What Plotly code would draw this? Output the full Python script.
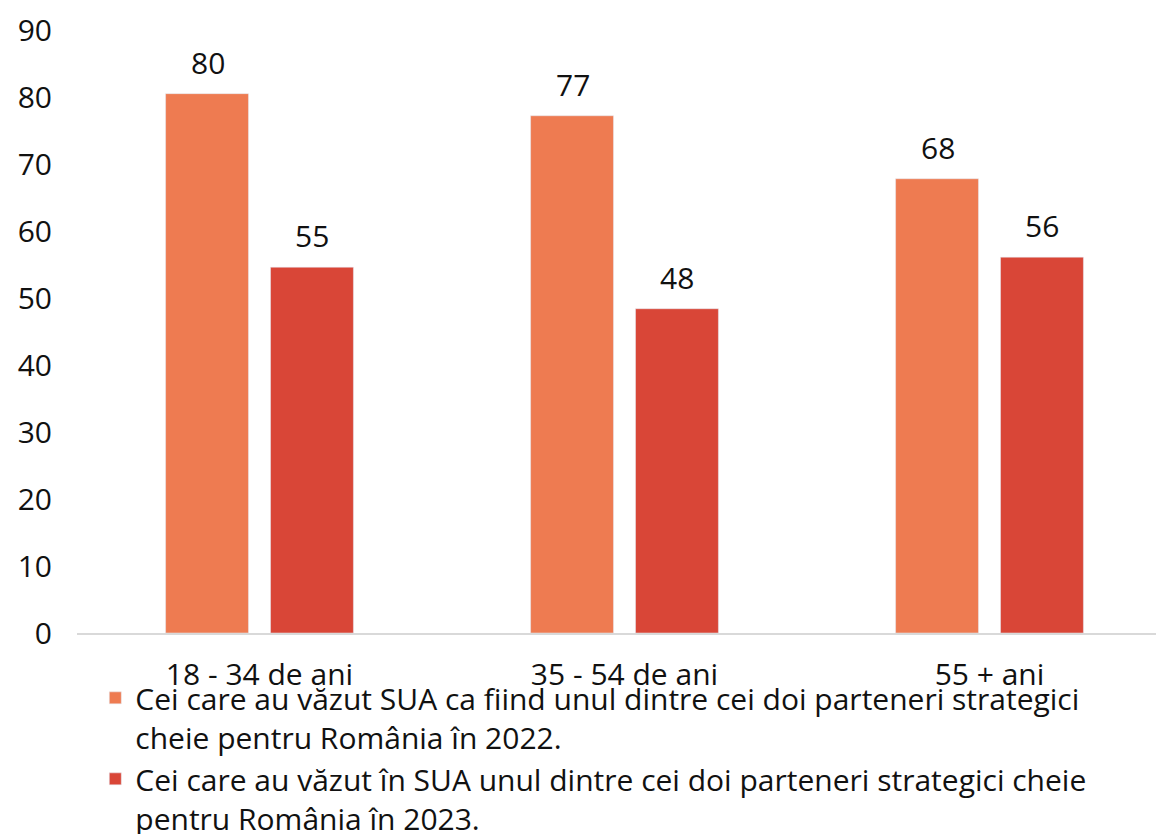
import plotly.graph_objects as go

# age groups and the two survey series
categories = ["18 - 34 de ani", "35 - 54 de ani", "55 + ani"]
vals_2022 = [80.5, 77.2, 67.8]
vals_2023 = [54.6, 48.4, 56.1]
labels_2022 = ["80", "77", "68"]
labels_2023 = ["55", "48", "56"]
name_2022 = "Cei care au văzut SUA ca fiind unul dintre cei doi parteneri strategici<br>cheie pentru România în 2022."
name_2023 = "Cei care au văzut în SUA unul dintre cei doi parteneri strategici cheie<br>pentru România în 2023."
y_ticks = [0, 10, 20, 30, 40, 50, 60, 70, 80, 90]

FONT = "Open Sans"
FS = 30
ORANGE = "#EE7B51"
RED = "#D94637"

fig = go.Figure()
fig.add_trace(go.Bar(x=categories, y=vals_2022, name=name_2022,
                     marker_color=ORANGE))
fig.add_trace(go.Bar(x=categories, y=vals_2023, name=name_2023,
                     marker_color=RED))

# value labels above the bars
for i, cat in enumerate(categories):
    fig.add_annotation(x=cat, y=vals_2022[i], text=labels_2022[i], xshift=-52,
                       yshift=9, yanchor="bottom", showarrow=False,
                       font=dict(size=FS, color="#111111", family=FONT))
    fig.add_annotation(x=cat, y=vals_2023[i], text=labels_2023[i], xshift=52,
                       yshift=9, yanchor="bottom", showarrow=False,
                       font=dict(size=FS, color="#111111", family=FONT))

fig.update_layout(
    width=1164, height=834,
    margin=dict(l=69, r=0, t=22, b=209, autoexpand=False),
    plot_bgcolor="white", paper_bgcolor="white",
    barmode="group", bargap=0.425, bargroupgap=0.21,
    font=dict(family=FONT, size=FS, color="#111111"),
    showlegend=True,
    legend=dict(orientation="v", xref="container", yref="container",
                x=0.075, y=0.204, xanchor="left", yanchor="top",
                font=dict(size=FS, family=FONT, color="#111111"),
                valign="top", tracegroupgap=2, bgcolor="rgba(0,0,0,0)"),
)
fig.update_xaxes(range=[-0.5, 2.5], showline=True, linecolor="#D9D9D9",
                 linewidth=2, ticks="", showgrid=False, tickangle=0,
                 ticklabelstandoff=14,
                 tickfont=dict(size=FS, family=FONT, color="#111111"))
fig.update_yaxes(range=[0, 90], tickvals=y_ticks, showgrid=False,
                 zeroline=False, showline=False, ticks="",
                 ticklabelstandoff=24,
                 tickfont=dict(size=FS, family=FONT, color="#111111"))

fig.write_html("out.html")
